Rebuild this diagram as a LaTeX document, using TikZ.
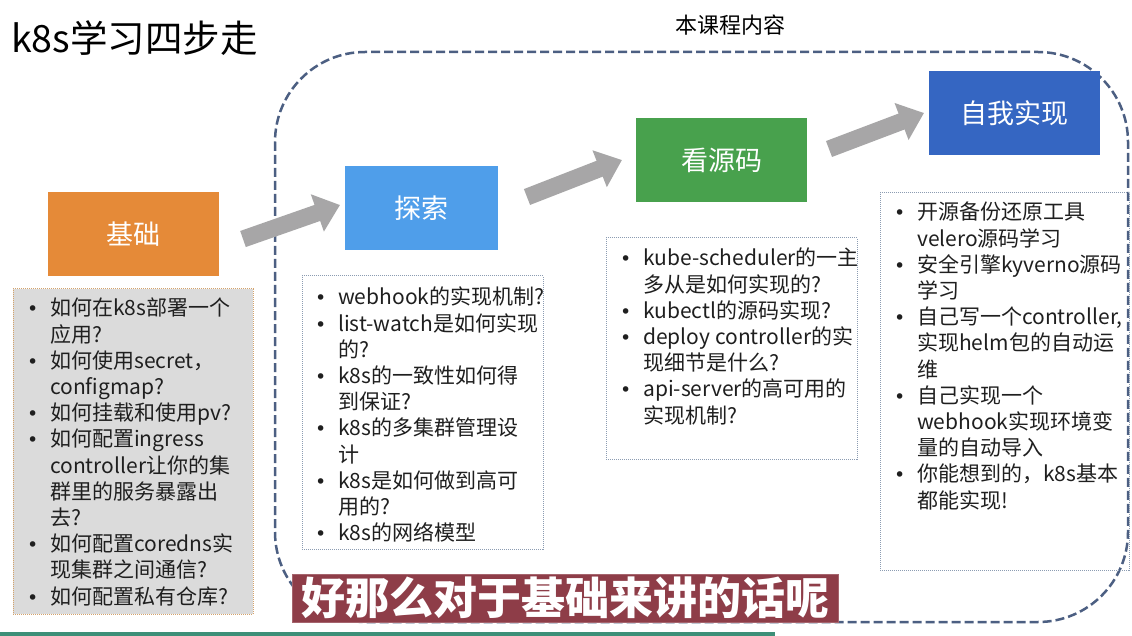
\documentclass[tikz,border=0pt]{standalone}
\usepackage{fontspec}
\setmainfont{Noto Sans CJK SC}
\newfontfamily\dejavu{DejaVu Sans}
\usetikzlibrary{arrows.meta}
\definecolor{orangebox}{HTML}{E58A38}
\definecolor{bluebox}{HTML}{4F9EEA}
\definecolor{greenbox}{HTML}{48A14D}
\definecolor{darkblue}{HTML}{3566C2}
\definecolor{arrowgray}{HTML}{A7A6A7}
\definecolor{outline}{HTML}{4C5F82}
\definecolor{listgray}{HTML}{DBDBDB}
\definecolor{tanborder}{HTML}{D4A36C}
\definecolor{dotborder}{HTML}{8C9CB2}
\definecolor{subred}{HTML}{8E3D48}
\definecolor{barteal}{HTML}{3D8F78}
\newcommand{\bu}{\makebox[23pt][l]{\dejavu\fontsize{19}{26}\selectfont •}}
\newcommand{\cn}{\hspace*{23pt}}
\begin{document}
\begin{tikzpicture}[x=1pt,y=-1pt,
  stepbox/.style={rectangle, inner sep=0pt, text=white, font=\fontsize{27}{30}\selectfont},
  listbox/.style={rectangle, inner sep=0pt, draw=dotborder, line width=1pt, dash pattern=on 1pt off 1pt},
  listtext/.style={anchor=north west, inner sep=0pt, align=left, font=\fontsize{21}{26.2}\selectfont, text=black!88},
  bigarrow/.style={arrowgray, line width=17pt, -{Triangle[length=24pt,width=38pt]}},
  course/.style={draw=outline, line width=2.5pt, dash pattern=on 9pt off 4pt, rounded corners=90pt}
]
\useasboundingbox (0,0) rectangle (1132,636);
\fill[white] (0,0) rectangle (1132,636);

% title
\node[anchor=west, inner sep=0pt, font=\fontsize{37.5}{40}\selectfont] (title) at (11,38) {k8s学习四步走};
\node[inner sep=0pt, font=\fontsize{22}{24}\selectfont] (course) at (730,25) {本课程内容};

% dashed course region
\draw[course] (275,52) rectangle (1128,622);

% step boxes
\node[stepbox, fill=orangebox, minimum width=171pt, minimum height=84pt] (jc) at (133.5,234) {基础};
\node[stepbox, fill=bluebox, minimum width=153pt, minimum height=84pt] (ts) at (421.5,208) {探索};
\node[stepbox, fill=greenbox, minimum width=171pt, minimum height=84pt] (ym) at (721.5,160) {看源码};
\node[stepbox, fill=darkblue, minimum width=171pt, minimum height=84pt] (zw) at (1014.5,113) {自我实现};

% arrows
\coordinate (a1s) at (243,239);
\coordinate (a1e) at (340,205);
\coordinate (a2s) at (527,197);
\coordinate (a2e) at (622,160);
\coordinate (a3s) at (829,149);
\coordinate (a3e) at (924,113);
\draw[bigarrow] (a1s) -- (a1e);
\draw[bigarrow] (a2s) -- (a2e);
\draw[bigarrow] (a3s) -- (a3e);

% list boxes
\node[listbox, draw=tanborder, fill=listgray, minimum width=240pt, minimum height=325pt] (l1) at (133,451.5) {};
\node[listbox, minimum width=241pt, minimum height=273pt] (l2) at (422.5,412.5) {};
\node[listbox, minimum width=251pt, minimum height=221pt] (l3) at (731.5,348.5) {};
\node[listbox, minimum width=249pt, minimum height=377pt] (l4) at (1004.5,381.5) {};

\node[listtext] (t1) at (27,298) {\bu 如何在k8s部署一个\\ \cn 应用?\\ \bu 如何使用secret，\\ \cn configmap?\\ \bu 如何挂载和使用pv?\\ \bu 如何配置ingress\\ \cn controller让你的集\\ \cn 群里的服务暴露出\\ \cn 去?\\ \bu 如何配置coredns实\\ \cn 现集群之间通信?\\ \bu 如何配置私有仓库?};

\node[listtext] (t2) at (315,287) {\bu webhook的实现机制?\\ \bu list-watch是如何实现\\ \cn 的?\\ \bu k8s的一致性如何得\\ \cn 到保证?\\ \bu k8s的多集群管理设\\ \cn 计\\ \bu k8s是如何做到高可\\ \cn 用的?\\ \bu k8s的网络模型};

\node[listtext] (t3) at (620,248) {\bu kube-scheduler的一主\\ \cn 多从是如何实现的?\\ \bu kubectl的源码实现?\\ \bu deploy controller的实\\ \cn 现细节是什么?\\ \bu api-server的高可用的\\ \cn 实现机制?};

\node[listtext] (t4) at (894,202) {\bu 开源备份还原工具\\ \cn velero源码学习\\ \bu 安全引擎kyverno源码\\ \cn 学习\\ \bu 自己写一个controller,\\ \cn 实现helm包的自动运\\ \cn 维\\ \bu 自己实现一个\\ \cn webhook实现环境变\\ \cn 量的自动导入\\ \bu 你能想到的，k8s基本\\ \cn 都能实现!};

% subtitle
\node[fill=subred, draw=subred!80!white, line width=1pt, inner sep=0pt, minimum width=546pt, minimum height=48pt, text=white, font=\fontsize{44}{46}\selectfont\bfseries] (sub) at (565,598) {好那么对于基础来讲的话呢};

% progress bar
\fill[barteal] (0,632) rectangle (775,636);
\end{tikzpicture}
\end{document}
